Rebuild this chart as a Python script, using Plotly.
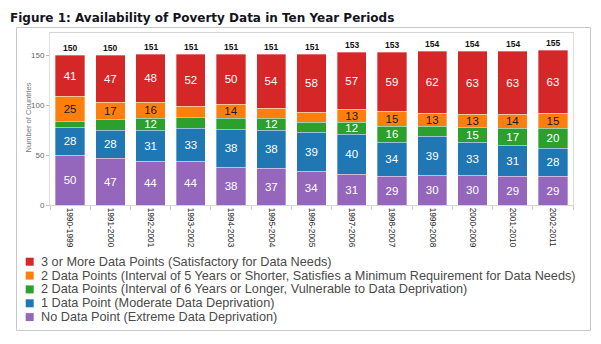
import plotly.graph_objects as go

# ---------------- data ----------------
periods = ["1990-1999", "1991-2000", "1992-2001", "1993-2002", "1994-2003",
           "1995-2004", "1996-2005", "1997-2006", "1998-2007", "1999-2008",
           "2000-2009", "2001-2010", "2002-2011"]

no_data_point = [50, 47, 44, 44, 38, 37, 34, 31, 29, 30, 30, 29, 29]
one_data_point = [28, 28, 31, 33, 38, 38, 39, 40, 34, 39, 33, 31, 28]
two_points_long = [6, 11, 12, 11, 11, 12, 10, 12, 16, 10, 15, 17, 20]
two_points_short = [25, 17, 16, 11, 14, 10, 10, 13, 15, 13, 13, 14, 15]
three_plus_points = [41, 47, 48, 52, 50, 54, 58, 57, 59, 62, 63, 63, 63]
totals = [150, 150, 151, 151, 151, 151, 151, 153, 153, 154, 154, 154, 155]

series_names = [
    "3 or More Data Points (Satisfactory for Data Needs)",
    "2 Data Points (Interval of 5 Years or Shorter, Satisfies a Minimum Requirement for Data Needs)",
    "2 Data Points (Interval of 6 Years or Longer, Vulnerable to Data Deprivation)",
    "1 Data Point (Moderate Data Deprivation)",
    "No Data Point (Extreme Data Deprivation)",
]
series_values = [three_plus_points, two_points_short, two_points_long,
                 one_data_point, no_data_point]
series_colors = ["#d62728", "#ff7f0e", "#2ca02c", "#1f77b4", "#9467bd"]
label_colors = ["#ffffff", "#1a1a1a", "#ffffff", "#ffffff", "#ffffff"]

y_ticks = [0, 50, 100, 150]

# ---------------- geometry helpers ----------------
W, H = 601, 344
ML, MR, MT, MB = 50, 28, 33, 139
PW, PH = W - ML - MR, H - MT - MB


def px_x(px):
    return (px - ML) / PW


def px_y(py):
    return (H - MB - py) / PH


FONT = "Arial, Liberation Sans, sans-serif"

fig = go.Figure()

# stacked bars, bottom to top
for name, vals, col, lcol in reversed(list(zip(series_names, series_values,
                                                series_colors, label_colors))):
    fig.add_trace(go.Bar(
        x=periods, y=vals, name=name,
        marker=dict(color=col, line=dict(color="rgba(255,255,255,0.55)", width=0.6)),
        text=[str(v) if v >= 12 else "" for v in vals],
        textposition="inside", insidetextanchor="middle",
        textangle=0, constraintext="none",
        insidetextfont=dict(family=FONT, size=11.5, color=lcol),
        showlegend=False, hoverinfo="x+y+name",
    ))

annotations = []
# totals above bars
for p, t in zip(periods, totals):
    annotations.append(dict(
        x=p, y=t, xref="x", yref="y", text=f"<b>{t}</b>", showarrow=False,
        yanchor="bottom", yshift=0,
        font=dict(family=FONT, size=8.5, color="#111111"),
    ))

# title
annotations.append(dict(
    x=px_x(7.5), y=px_y(18), xref="paper", yref="paper", xanchor="left",
    yanchor="middle", showarrow=False,
    text="<b>Figure 1: Availability of Poverty Data in Ten Year Periods</b>",
    font=dict(family="DejaVu Sans, Verdana, sans-serif", size=12, color="#14141e"),
))

# y axis title
annotations.append(dict(
    x=px_x(27.5), y=px_y(118), xref="paper", yref="paper", textangle=-90,
    xanchor="center", yanchor="middle", showarrow=False,
    text="Number of Countries",
    font=dict(family=FONT, size=7.6, color="#777777"),
))

shapes = []
# outer frame
shapes.append(dict(type="rect", xref="paper", yref="paper",
                   x0=px_x(16.5), x1=px_x(590.5), y0=px_y(330.5), y1=px_y(27.5),
                   line=dict(color="#c8c8c8", width=1), fillcolor="rgba(0,0,0,0)",
                   layer="below"))

# custom legend
row_y = [261.7, 275.6, 289.4, 303.3, 317.1]
for name, col, ry in zip(series_names, series_colors, row_y):
    shapes.append(dict(type="rect", xref="paper", yref="paper",
                       x0=px_x(25.7), x1=px_x(33.7), y0=px_y(ry + 4), y1=px_y(ry - 4),
                       line=dict(width=0), fillcolor=col))
    annotations.append(dict(
        x=px_x(38.5), y=px_y(ry), xref="paper", yref="paper", xanchor="left",
        yanchor="middle", showarrow=False, text=name,
        font=dict(family=FONT, size=12.7, color="#4a4a4a"),
    ))

fig.update_layout(
    width=W, height=H,
    margin=dict(l=ML, r=MR, t=MT, b=MB, pad=0),
    barmode="stack", bargap=0.27,
    paper_bgcolor="white", plot_bgcolor="white",
    annotations=annotations, shapes=shapes,
    showlegend=False,
    xaxis=dict(
        type="category", tickangle=90, tickson="boundaries",
        ticks="outside", ticklen=4, tickcolor="#cccccc",
        showline=True, linecolor="#d4d4d4", linewidth=1, mirror=True,
        showgrid=False, zeroline=False,
        tickfont=dict(family=FONT, size=8.3, color="#262626"),
    ),
    yaxis=dict(
        range=[0, 172], tickvals=y_ticks, ticks="outside", ticklen=3,
        tickcolor="#bbbbbb", showline=True, linecolor="#e0e0e0", linewidth=1,
        mirror=True, showgrid=False, zeroline=False,
        tickfont=dict(family=FONT, size=8, color="#666666"),
    ),
)

fig.write_html("out.html")
